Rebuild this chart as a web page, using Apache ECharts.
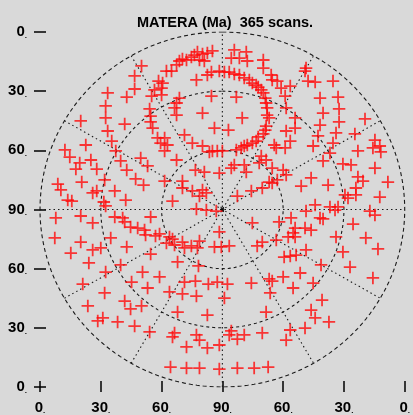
<!DOCTYPE html>
<html><head><meta charset="utf-8">
<script src="https://cdn.jsdelivr.net/npm/echarts@6/dist/echarts.min.js"></script>
<style>html,body{margin:0;padding:0;background:#d9d9d9}#c{width:413px;height:415px}</style>
</head><body><div id="c"></div>
<script>
const titleText = 'MATERA (Ma)  365 scans.';
const tickValues = [-90, -60, -30, 0, 30, 60, 90];
const ringRadii = [30, 60, 90];
const spokeAngles = [0, 30, 60, 90, 120, 150];

// scan positions: [east-west, north-south] offsets in degrees from zenith
const upperLeft = [[-39.9,72.8],[-43.3,67.7],[-43.3,61.1],[-47.2,57.0],[-56.6,59.1],[-57.6,52.5],[-57.6,46.4],[-56.6,39.8],[-54.6,34.7],[-48.2,43.3],[-69.9,44.9],[-67.4,32.7],[-77.7,30.2],[-75.3,26.6],[-70.4,23.6],[-72.3,20.5],[-64.9,25.1],[-62.0,20.5],[-52.6,29.7],[-50.2,24.6],[-47.2,20.0],[-42.8,15.5],[-38.9,12.4],[-40.3,26.1],[-36.9,22.1],[-58.1,15.0],[-53.1,9.4],[-69.4,13.9],[-81.2,12.9],[-79.7,9.9],[-76.3,4.8],[-74.3,4.3],[-64.0,8.4],[-62.0,9.4],[-58.5,3.8],[-47.7,4.8],[-31.5,65.1],[-33.5,60.6],[-34.9,57.5],[-35.9,51.0],[-35.4,47.4],[-35.4,44.4],[-34.4,41.3],[-32.0,36.3],[-30.5,33.7],[-57.6,1.8]];
const upperCenter = [[5.9,80.9],[11.8,79.9],[4.4,76.8],[8.4,76.8],[12.3,75.3],[20.2,75.8],[20.2,71.7],[-4.9,80.4],[-7.4,79.3],[-9.8,78.8],[-12.3,79.9],[-13.8,78.3],[-15.3,77.3],[-17.7,75.8],[-19.7,76.3],[-11.3,75.8],[-8.9,75.3],[-21.2,75.3],[-22.6,73.3],[-25.1,70.2],[-27.6,70.2],[-29.5,64.1],[-30.0,61.6],[-30.0,58.1],
[-12.8,65.7],[-7.4,68.2],[-5.4,69.7],[-1.5,70.2],[1.0,69.7],[3.4,69.7],[5.9,68.7],[8.4,68.2],[10.8,66.7],[13.3,65.7],[14.8,64.1],[16.7,63.1],[17.7,62.1],[19.2,60.6],[20.2,59.1],[21.2,56.5],[21.6,54.0],[22.1,51.5],[22.1,47.9],[23.1,46.4],[21.6,42.3],[21.2,40.3],[20.2,38.3],[17.7,36.8],[16.7,34.7],[14.8,33.7],[12.3,32.7],[10.8,32.2],[9.3,31.2],[6.9,30.2],[0,29.7],[-2.5,29.7],[-4.9,29.7],[-6.4,29.2],[24.1,68.2],[24.6,65.7],[27.1,65.1],[29.0,61.6],[25.6,32.7],[26.6,31.2],
[-5.4,57.5],[6.9,57.0],[-9.8,48.9],[9.8,46.4],[-3.9,41.3],[3.0,40.3],[-21.2,56.5],[-22.6,54.0],[-23.6,51.5],[-22.6,47.9],[-18.7,37.8],[-14.8,33.7],[-28.5,36.3],[-27.1,32.7],[-28.5,29.7],[-22.6,25.1],[-9.8,32.2],[-8.9,19.0],[-13.3,20.0],[-1.5,18.5],[4.4,21.0],[5.9,22.6],[10.8,22.6],[11.8,19.0],[19.2,27.1],[21.6,25.1],[18.2,23.6],[24.6,21.0],[30.0,20.0],[27.1,15.0],[24.6,13.4],[23.1,13.9],[19.7,10.9],[14.3,9.4],[7.4,6.8],[-28.5,14.4],[-19.7,14.4],[-19.7,10.9],[-14.8,9.4],[-9.8,9.9],[-7.9,8.4],[-11.3,6.8],[-24.6,4.3]];
const upperRight = [[41.3,71.7],[40.8,70.2],[42.3,65.1],[45.8,64.6],[54.6,65.1],[33.5,62.6],[48.2,56.5],[57.1,57.0],[31.0,57.5],[31.5,51.5],[49.7,48.9],[57.6,51.0],[35.9,46.4],[48.2,42.8],[57.6,44.4],[70.4,45.9],[35.9,41.3],[31.5,39.8],[47.2,37.3],[56.1,38.8],[65.4,38.3],[33.5,34.7],[44.8,32.2],[54.6,33.7],[75.3,35.2],[77.7,32.2],[74.3,31.2],[78.2,29.2],[66.9,29.7],[31.0,31.2],[53.1,28.6],[49.7,24.6],[59.5,23.1],[63.5,22.6],[75.3,21.0],[31.5,17.5],[43.8,16.0],[38.9,11.9],[52.2,12.4],[66.9,16.5],[69.4,14.4],[65.9,10.9],[81.7,13.9],[60.5,7.4],[62.0,5.8],[65.9,7.4],[77.7,6.3],[45.8,2.3],[53.1,1.3],[55.6,-0.3],[57.1,1.3],[41.3,-0.8],[72.8,-0.8]];
const lowerLeft = [[-82.2,-4.3],[-69.9,-3.3],[-64.0,-6.8],[-53.1,-3.8],[-49.2,-4.3],[-48.2,-6.3],[-45.3,-8.9],[-41.8,-9.4],[-38.4,-10.4],[-35.4,-3.8],[-37.9,-12.9],[-33.0,-13.4],[-31.0,-12.4],[-82.7,-14.4],[-69.9,-16.5],[-64.0,-20.5],[-60.0,-19.5],[-55.1,-14.4],[-47.2,-19.0],[-74.8,-22.1],[-35.4,-22.6],[-65.9,-27.1],[-50.2,-28.1],[-57.6,-31.7],[-39.4,-31.7],[-31.0,-34.2],[-68.9,-37.8],[-44.8,-36.8],[-36.9,-39.8],[-58.1,-42.3],[-48.2,-46.4],[-39.9,-48.9],[-45.3,-50.4],[-66.4,-48.9],[-59.0,-55.0],[-61.5,-56.5],[-51.7,-57.0],[-43.3,-59.1],[-35.9,-62.1]];
const lowerCenter = [[-12.8,0.3],[-7.9,-0.3],[-3.0,-0.8],[14.8,-6.8],[28.0,-6.3],[-26.1,-13.9],[-24.6,-15.0],[-27.6,-17.0],[-23.6,-18.0],[-19.7,-16.5],[-18.7,-19.5],[-15.3,-18.5],[-11.3,-16.0],[-12.3,-19.5],[-3.9,-19.0],[-0.5,-19.0],[3.4,-18.5],[-1.5,-11.4],[17.2,-18.5],[19.7,-16.5],[26.6,-15.5],[30.5,-24.1],[-22.1,-26.6],[-11.8,-28.6],[-18.7,-36.8],[-13.3,-36.3],[-6.9,-37.8],[-2.5,-36.8],[2.5,-37.8],[14.3,-37.3],[23.1,-35.2],[24.6,-36.3],[-26.1,-41.8],[-19.7,-42.8],[-12.8,-43.9],[1.0,-44.9],[23.6,-42.3],[30.0,-34.2],[-22.1,-52.0],[-7.4,-53.5],[21.6,-52.0],[-23.6,-62.6],[-24.6,-64.6],[-12.8,-63.6],[-11.3,-66.2],[-17.7,-69.7],[-7.4,-70.2],[-1.5,-68.7],[4.4,-61.6],[3.4,-63.6],[7.4,-65.7],[10.8,-63.6],[19.7,-62.6],[-25.6,-79.9],[-17.7,-80.4],[-11.3,-80.4],[-1.5,-80.9],[7.4,-80.4],[15.7,-80.4],[22.6,-79.9]];
const lowerRight = [[33.9,-4.3],[75.3,-2.8],[48.2,-4.3],[49.7,-4.8],[64.5,-7.4],[35.9,-9.4],[40.8,-9.4],[43.8,-10.4],[34.9,-11.9],[32.5,-13.9],[35.9,-13.9],[56.1,-13.9],[70.8,-14.4],[76.8,-20.0],[59.5,-21.5],[41.3,-20.5],[36.4,-23.1],[33.5,-23.6],[48.7,-28.1],[63.0,-29.2],[38.4,-32.2],[74.3,-34.7],[44.8,-37.3],[34.9,-39.8],[49.2,-45.9],[43.8,-51.0],[45.8,-55.0],[52.6,-57.0],[40.8,-60.1],[33.5,-61.1],[31.5,-66.2]];

const scans = [].concat(upperLeft, upperCenter, upperRight, lowerLeft, lowerCenter, lowerRight);

function ring(r) {
  const pts = [];
  for (let a = 0; a <= 360; a += 2) {
    const t = a * Math.PI / 180;
    pts.push([r * Math.sin(t), r * Math.cos(t)]);
  }
  return pts;
}
function spoke(a) {
  const t = a * Math.PI / 180;
  return [[-90 * Math.sin(t), -90 * Math.cos(t)], [0, 0], [90 * Math.sin(t), 90 * Math.cos(t)]];
}
const FONT = "'Liberation Sans', Arial, Helvetica, sans-serif";
const labelFmt = v => '{n|' + (90 - Math.abs(v)) + '}{d|.}';
const rich = {
  n: { fontSize: 15, fontWeight: 'bold', color: '#000', fontFamily: FONT },
  d: { fontSize: 8, fontWeight: 'bold', color: '#000', fontFamily: FONT, verticalAlign: 'bottom' }
};
function axis(len, margin) {
  return {
    type: 'value', min: -90, max: 90, interval: 30, offset: -6,
    axisLine: { show: false, onZero: false },
    axisTick: { show: true, length: len, lineStyle: { color: '#000', width: 1.5 } },
    splitLine: { show: false },
    axisLabel: { formatter: labelFmt, rich: rich, margin: margin, showMinLabel: true, showMaxLabel: true }
  };
}
const series = [];
ringRadii.forEach(r => series.push({
  type: 'line', data: ring(r), showSymbol: false, symbol: 'none', silent: true, z: 1,
  lineStyle: { color: '#1a1a1a', width: 1.1, type: r === 90 ? [4, 3] : [3, 3] }
}));
spokeAngles.forEach(a => series.push({
  type: 'line', data: spoke(a), showSymbol: false, symbol: 'none', silent: true, z: 1,
  lineStyle: { color: '#1a1a1a', width: 1.1, type: [1.5, 3] }
}));
series.push({ type: 'scatter', data: [[0, 0]], symbol: 'circle', symbolSize: 4, itemStyle: { color: '#000' }, z: 2, silent: true });
series.push({
  type: 'scatter', data: scans, z: 3,
  symbol: 'path://M0,5.15H12V6.85H0ZM5.15,0H6.85V12H5.15Z', symbolSize: 12.5,
  itemStyle: { color: '#ff0a0a' }
});

const chart = echarts.init(document.getElementById('c'), null, { renderer: 'canvas' });
chart.setOption({
  backgroundColor: '#d9d9d9',
  animation: false,
  title: { text: titleText, left: 220, top: 10, textAlign: 'center',
    textStyle: { fontSize: 14.5, fontWeight: 'bold', color: '#000', fontFamily: FONT } },
  grid: { left: 40, right: 7, top: 32, bottom: 28, containLabel: false },
  xAxis: axis(11, 19),
  yAxis: axis(12, 19),
  series: series
});
</script></body></html>
